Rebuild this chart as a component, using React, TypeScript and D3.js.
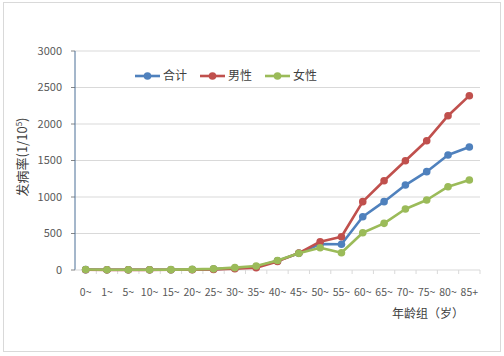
import React from "react";
import * as d3 from "d3";

const categories = ["0~", "1~", "5~", "10~", "15~", "20~", "25~", "30~", "35~", "40~", "45~", "50~", "55~", "60~", "65~", "70~", "75~", "80~", "85+"];
const totalValues = [5, 3, 3, 3, 4, 6, 12, 25, 45, 125, 230, 356, 352, 730, 936, 1164, 1347, 1575, 1685];
const maleValues = [3, 2, 2, 2, 3, 4, 8, 18, 30, 118, 232, 388, 456, 936, 1223, 1497, 1771, 2114, 2388];
const femaleValues = [6, 4, 4, 4, 5, 8, 16, 32, 55, 130, 228, 305, 237, 511, 639, 836, 959, 1141, 1233];
const yTicks = [0, 500, 1000, 1500, 2000, 2500, 3000];
const seriesNames = ["合计", "男性", "女性"];
const seriesColors = ["#4F81BD", "#C0504D", "#9BBB59"];

export default function App() {
  const W = 504, H = 356;
  const left = 75, right = 480, top = 51, bottom = 270;
  const x = d3.scaleBand().domain(categories).range([left, right]);
  const y = d3.scaleLinear().domain([0, 3000]).range([bottom, top]);
  const series = [totalValues, maleValues, femaleValues];
  const line = d3.line<number>()
    .x((_, i) => (x(categories[i]) as number) + x.bandwidth() / 2)
    .y((d) => y(d));
  const font = "'Noto Sans CJK SC', 'Noto Sans', sans-serif";
  const legendX = [135, 200, 265];
  return (
    <svg width={W} height={H} style={{ position: "absolute", left: 0, top: 0 }} fontFamily={font}>
      <rect x={0} y={0} width={W} height={H} fill="#fff" />
      <rect x={3.5} y={2.5} width={497} height={349} fill="none" stroke="#d9d9d9" />
      {yTicks.map((t) => (
        <g key={t}>
          {t > 0 && <line x1={left} x2={right} y1={y(t)} y2={y(t)} stroke="#d9d9d9" strokeWidth={1} />}
          <line x1={left - 4} x2={left} y1={y(t)} y2={y(t)} stroke="#868686" />
          <text x={62} y={y(t)} dy="0.35em" textAnchor="end" fontSize={11} fill="#595959">{t}</text>
        </g>
      ))}
      <line x1={left} x2={left} y1={top} y2={bottom} stroke="#4a6f96" strokeWidth={1} />
      <line x1={left} x2={right} y1={bottom} y2={bottom} stroke="#d9d9d9" strokeWidth={1} />
      {categories.map((c, i) => (
        <line key={"t" + i} x1={(x(c) as number) + x.bandwidth()} x2={(x(c) as number) + x.bandwidth()} y1={bottom} y2={bottom + 4} stroke="#d9d9d9" />
      ))}
      {categories.map((c) => (
        <text key={c} x={(x(c) as number) + x.bandwidth() / 2} y={292} dy="0.35em" textAnchor="middle" fontSize={10.5} fill="#595959">{c}</text>
      ))}
      <text x={428} y={314} dy="0.35em" textAnchor="middle" fontSize={12} fill="#404040">年龄组（岁）</text>
      <text transform={`translate(22,157) rotate(-90)`} textAnchor="middle" dy="0.35em" fontSize={13} fill="#404040">
        发病率(1/10<tspan dy={-5} fontSize={8}>5</tspan><tspan dy={5}>)</tspan>
      </text>
      {series.map((s, si) => (
        <g key={si}>
          <path d={line(s) || ""} fill="none" stroke={seriesColors[si]} strokeWidth={2.6} strokeLinejoin="round" />
          {s.map((v, i) => (
            <circle key={i} cx={(x(categories[i]) as number) + x.bandwidth() / 2} cy={y(v)} r={3.8} fill={seriesColors[si]} />
          ))}
        </g>
      ))}
      {seriesNames.map((n, i) => (
        <g key={n}>
          <line x1={legendX[i]} x2={legendX[i] + 25} y1={76} y2={76} stroke={seriesColors[i]} strokeWidth={2.6} />
          <circle cx={legendX[i] + 12.5} cy={76} r={3.8} fill={seriesColors[i]} />
          <text x={legendX[i] + 28} y={76} dy="0.35em" fontSize={12} fill="#404040">{n}</text>
        </g>
      ))}
    </svg>
  );
}
